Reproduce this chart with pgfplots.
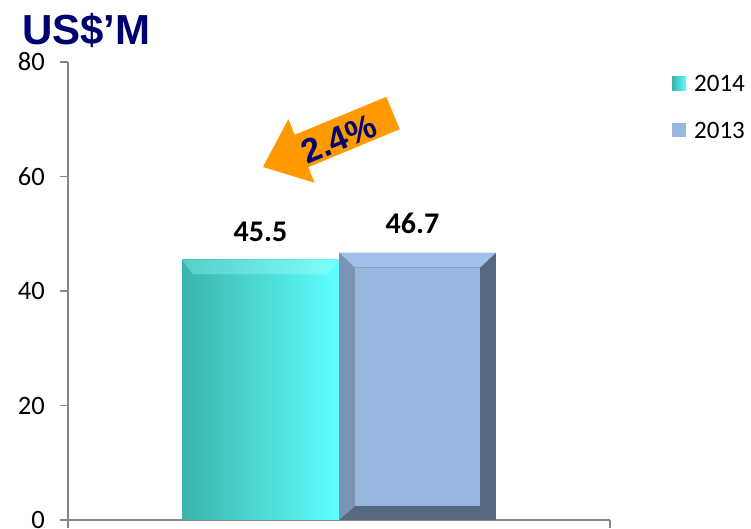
\documentclass[border=0pt]{standalone}
\usepackage{fontspec}
\setmainfont{Carlito}
\newfontfamily\arialfont{Liberation Sans}
\usepackage{pgfplots}
\pgfplotsset{compat=1.18}
\definecolor{navy}{RGB}{0,0,110}
\definecolor{axgray}{RGB}{134,134,134}
\definecolor{cyanL}{RGB}{58,180,172}
\definecolor{cyanR}{RGB}{94,255,255}
\definecolor{cyanTopL}{RGB}{88,205,200}
\definecolor{cyanTopR}{RGB}{125,255,255}
\definecolor{bfFace}{RGB}{151,183,223}
\definecolor{bfDark}{RGB}{88,104,127}
\definecolor{bfLeft}{RGB}{122,147,180}
\definecolor{bfTop}{RGB}{160,192,232}
\definecolor{orangeA}{RGB}{255,153,0}
\begin{document}
\begin{tikzpicture}
\path[use as bounding box] (-68pt,-9pt) rectangle (683pt,520pt);
\begin{axis}[
  at={(0pt,0pt)}, anchor=south west,
  scale only axis, width=542pt, height=458pt,
  xmin=-1, xmax=1, ymin=0, ymax=80,
  axis x line*=bottom, axis y line*=left,
  xtick={-1,1}, xticklabels={},
  ytick={0,20,40,60,80},
  tick align=outside, major tick length=8pt,
  axis line style={draw=axgray, line width=1.2pt},
  tick style={draw=axgray, line width=1.2pt},
  /pgf/number format/assume math mode=true,
  y tick label style={font=\fontsize{26.5}{26.5}\selectfont, inner sep=0pt, xshift=-15pt},
  clip=false,
  legend style={at={(rel axis cs:1.1144,0.9028)}, anchor=west, draw=none, fill=none,
    inner sep=0pt, font=\fontsize{25}{25}\selectfont, row sep=31pt, column sep=8pt,
    nodes={inner sep=0pt, text depth=0pt}, cells={anchor=base west}},
]
\addplot[ybar, bar width=157pt, bar shift=-78.5pt, draw=none, left color=cyanL, right color=cyanR,
  nodes near coords,
  nodes near coords style={font=\fontsize{30}{30}\selectfont\bfseries, text=black, anchor=base, yshift=18pt, xshift=-78.5pt},
  legend image code/.code={\fill[left color=cyanL,right color=cyanR] (0pt,1pt) rectangle (14pt,15pt);}]
  coordinates {(0,45.5)};
\addlegendentry{2014}
\addplot[ybar, bar width=157pt, bar shift=78.5pt, draw=none, fill=bfDark,
  nodes near coords,
  nodes near coords style={font=\fontsize{30}{30}\selectfont\bfseries, text=black, anchor=base, yshift=19pt, xshift=73.5pt},
  legend image code/.code={\fill[bfFace] (0pt,1pt) rectangle (14pt,15pt);}]
  coordinates {(0,46.7)};
\addlegendentry{2013}
% bevel of 2013 bar
\addplot[forget plot, fill=bfLeft, draw=none] coordinates {(0,0) (0.059,2.45) (0.059,44.08) (0,46.7)};
\addplot[forget plot, fill=bfTop, draw=none] coordinates {(0,46.7) (0.5793,46.7) (0.5203,44.08) (0.059,44.08)};
\addplot[forget plot, fill=bfFace, draw=none] coordinates {(0.059,2.45) (0.5203,2.45) (0.5203,44.08) (0.059,44.08)};
% top bevel of 2014 bar
\addplot[forget plot, left color=cyanTopL, right color=cyanTopR, draw=none] coordinates {(-0.5793,45.5) (0,45.5) (-0.04,42.9) (-0.539,42.9)};
\end{axis}
\fill[orangeA] (195pt,353pt) -- (220.3pt,400.8pt) -- (226.8pt,385.2pt) -- (318.3pt,423.2pt) -- (331.7pt,390.8pt) -- (240.2pt,352.8pt) -- (246.7pt,337.2pt) -- cycle;
\node[rotate=22.5, text=navy, font=\arialfont\bfseries\fontsize{34}{34}\selectfont] at (271pt,381pt) {2.4\%};
\node[anchor=base west, inner sep=0pt, text=navy, font=\arialfont\bfseries\fontsize{42}{42}\selectfont] at (-46pt,475pt) {US\$’M};
\end{tikzpicture}
\end{document}
